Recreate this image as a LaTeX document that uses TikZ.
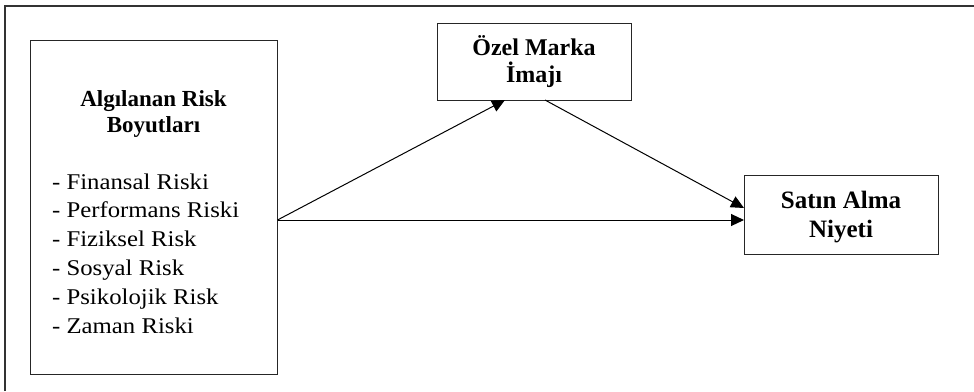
\documentclass[tikz,border=0pt]{standalone}
\usepackage{fontspec}
\setmainfont{Liberation Serif}
\newfontfamily\listfont[FakeStretch=1.1]{Liberation Serif}
\usetikzlibrary{arrows.meta}
\begin{document}
\begin{tikzpicture}[x=1pt,y=-1pt,
  box/.style={draw=black!85,line width=1pt,inner sep=0pt},
  lbl/.style={font=\fontsize{24}{26.5}\selectfont\bfseries,align=center,inner sep=0pt},
  lst/.style={font=\listfont\fontsize{22.5}{28.8}\selectfont,align=left,inner sep=0pt},
  conn/.style={line width=1pt,-{Triangle[length=13pt,width=12pt]}}]
\useasboundingbox (0,0) rectangle (974,391);
\draw[line width=1.2pt,black!80] (5,391) -- (5,6) -- (974,6);
% left box
\node[box,minimum width=247pt,minimum height=334pt] (risk) at (153.5,207) {};
\node[lbl,anchor=base,font=\fontsize{23}{26}\selectfont\bfseries] (risktitle) at (153.5,132) {Algılanan Risk\\Boyutları};
\node[lst,anchor=base west] (risklist) at (52,333) {- Finansal Riski\\- Performans Riski\\- Fiziksel Risk\\- Sosyal Risk\\- Psikolojik Risk\\- Zaman Riski};
% middle box
\node[box,minimum width=194pt,minimum height=77pt] (brand) at (534,61.5) {};
\node[lbl,anchor=base] (brandtxt) at (534,82) {Özel Marka\\İmajı};
% right box
\node[box,minimum width=194pt,minimum height=79pt] (intent) at (841,214.5) {};
\node[lbl,anchor=base,font=\fontsize{25}{29}\selectfont\bfseries] (intenttxt) at (841,237) {Satın Alma\\Niyeti};
% connectors
\coordinate (src) at (risk.east |- 0,220);
\coordinate (bin) at (505,100);
\coordinate (bout) at (545,100);
\coordinate (iin1) at (744,208);
\coordinate (iin2) at (744,220);
\draw[conn] (src) -- (bin);
\draw[conn] (bout) -- (iin1);
\draw[conn] (src) -- (iin2);
\end{tikzpicture}
\end{document}
